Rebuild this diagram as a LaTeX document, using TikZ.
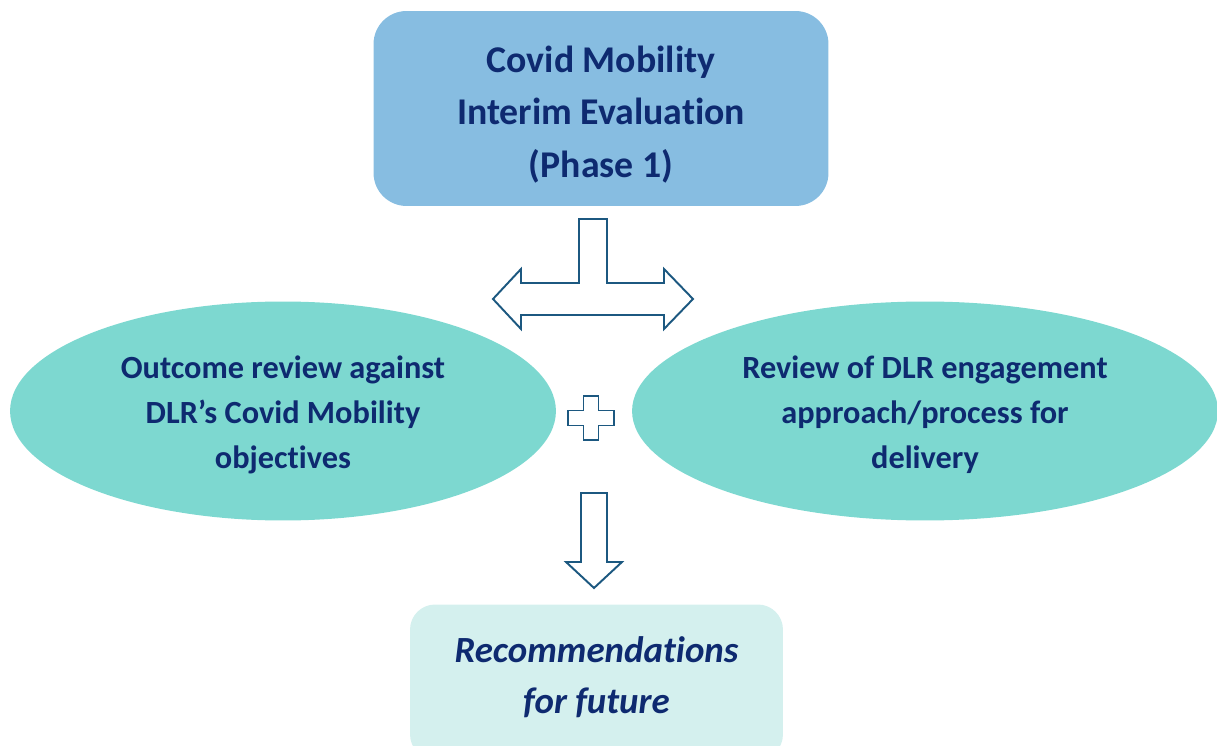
\documentclass[tikz,border=0pt]{standalone}
\usepackage{fontspec}
\setmainfont{Carlito}[Ligatures=NoCommon]
\usepackage{tikz}
\usetikzlibrary{positioning,shapes.geometric}

\definecolor{navytext}{RGB}{14,42,112}
\definecolor{phasefill}{RGB}{135,189,225}
\definecolor{ovalfill}{RGB}{125,216,208}
\definecolor{recfill}{RGB}{212,240,238}
\definecolor{arrowline}{RGB}{28,88,128}

\tikzset{
    phase/.style = {
        shape=rectangle,
        rounded corners=0.66cm,
        fill=phasefill,
        inner sep=0pt,
        minimum width=9.1cm,
        minimum height=3.9cm
    },
    review/.style = {
        shape=ellipse,
        fill=ovalfill,
        inner sep=0pt,
        minimum height=4.38cm
    },
    result/.style = {
        shape=rectangle,
        rounded corners=0.5cm,
        fill=recfill,
        inner sep=0pt,
        minimum width=7.46cm,
        minimum height=3.1cm
    },
    label/.style = {
        text=navytext,
        align=center,
        inner sep=0pt
    },
    blockarrow/.style = {
        draw=arrowline,
        fill=white,
        line width=1.1pt,
        line join=miter
    },
}

\begin{document}
\begin{tikzpicture}[x=0.02cm,y=-0.02cm]
                \useasboundingbox (0,0) rectangle (1217,746);

                \node[phase] (phase1) at (601,108.5) {};
                \node[review, minimum width=10.92cm] (outcome) at (283,411) {};
                \node[review, minimum width=11.72cm] (engage) at (925,411) {};
                \node[result] (recs) at (596.5,682) {};

                \node[label, font=\bfseries\fontsize{21.5}{29.8}\selectfont] (phase1text)
                    at ([yshift=-0.12cm]phase1.center) {Covid Mobility\\Interim Evaluation\\(Phase 1)};
                \node[label, font=\bfseries\fontsize{18.4}{25.5}\selectfont] (outcometext)
                    at ([yshift=-0.08cm]outcome.center) {Outcome review against\\DLR’s Covid Mobility\\objectives};
                \node[label, font=\bfseries\fontsize{18.4}{25.5}\selectfont] (engagetext)
                    at ([yshift=-0.08cm]engage.center) {Review of DLR engagement\\approach/process for\\delivery};
                \node[label, font=\bfseries\itshape\fontsize{21}{29}\selectfont] (recstext)
                    at ([yshift=0.09cm]recs.center) {Recommendations\\for future};

                % split arrow under phase 1
                \coordinate (tee) at (593,299);
                \path[blockarrow] (tee) ++(-14,-80) -- ++(28,0) -- ++(0,64) -- ++(57,0)
                    -- ++(0,-14) -- ++(29,30) -- ++(-29,30) -- ++(0,-14) -- ++(-143,0)
                    -- ++(0,14) -- ++(-28,-30) -- ++(28,-30) -- ++(0,14) -- ++(58,0) -- cycle;

                % plus between the two reviews
                \coordinate (plus) at (591,418);
                \path[blockarrow] (plus) ++(-7.5,-22) -- ++(15,0) -- ++(0,14.5) -- ++(15.5,0)
                    -- ++(0,15) -- ++(-15.5,0) -- ++(0,14.5) -- ++(-15,0) -- ++(0,-14.5)
                    -- ++(-15.5,0) -- ++(0,-15) -- ++(15.5,0) -- cycle;

                % down arrow to recommendations
                \coordinate (down) at (594,493);
                \path[blockarrow] (down) ++(-13,0) -- ++(26,0) -- ++(0,69) -- ++(15,0)
                    -- ++(-28,26) -- ++(-28,-26) -- ++(15,0) -- cycle;
            \end{tikzpicture}
\end{document}
